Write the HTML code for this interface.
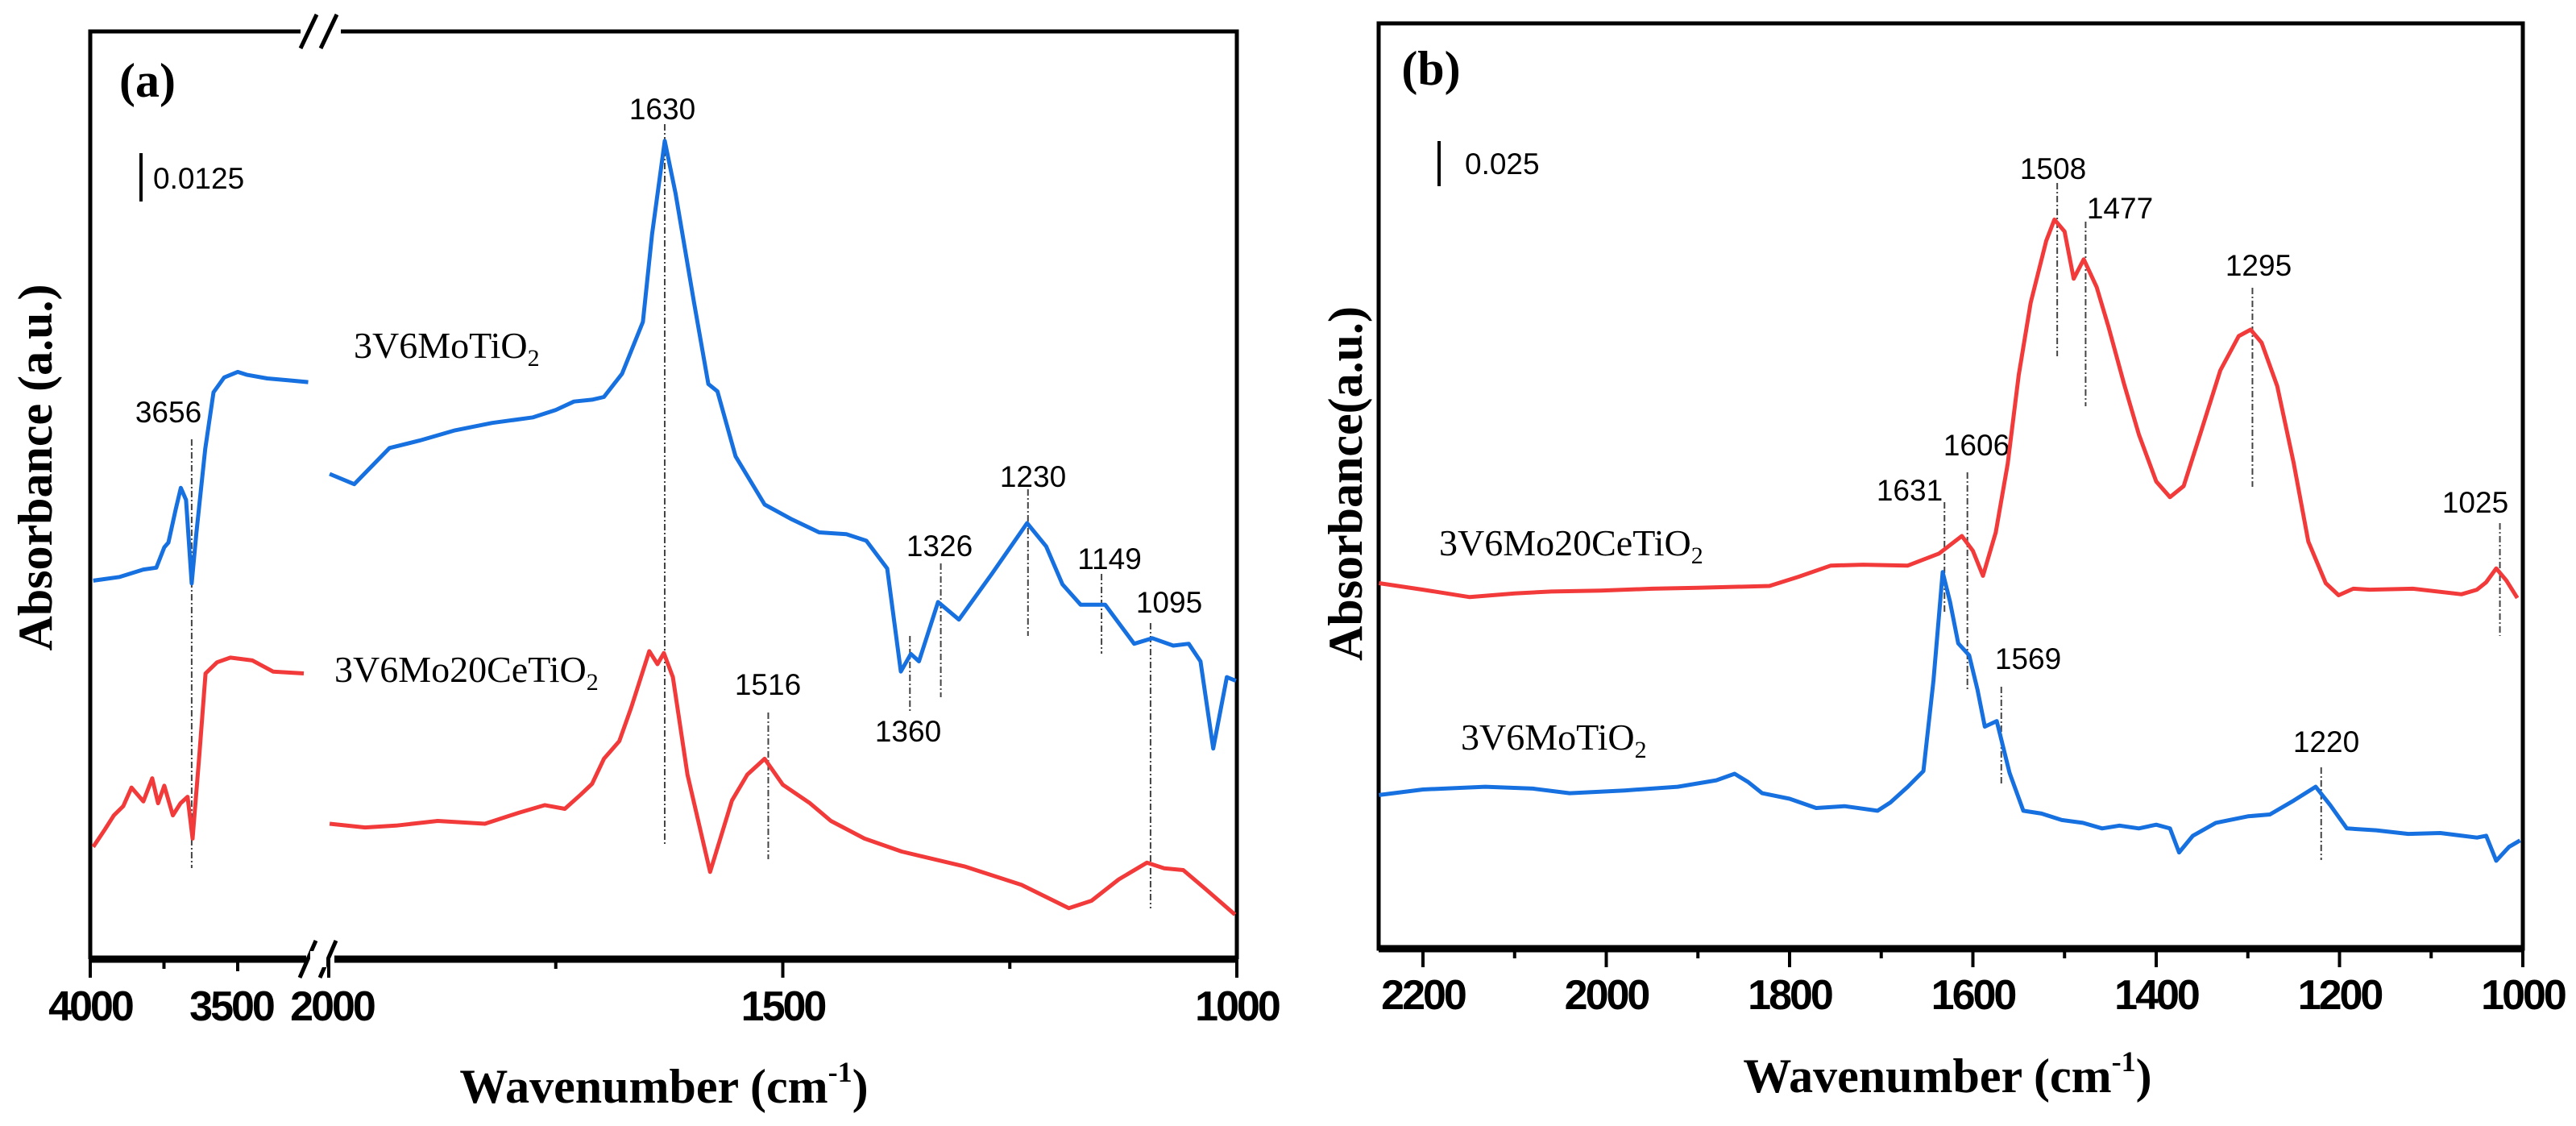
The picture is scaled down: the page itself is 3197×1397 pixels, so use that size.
<!DOCTYPE html>
<html><head><meta charset="utf-8">
<style>
html,body{margin:0;padding:0;background:#fff;}
svg{display:block;}
.tick{font-family:"Liberation Sans",sans-serif;font-weight:bold;font-size:52px;letter-spacing:-3px;}
.ann{font-family:"Liberation Sans",sans-serif;font-size:37px;}
.ser{font-family:"Liberation Serif",serif;font-size:46px;}
.ttl{font-family:"Liberation Serif",serif;font-weight:bold;font-size:60px;}
</style></head>
<body>
<svg id="fig" width="3197" height="1397" viewBox="0 0 3197 1397" xmlns="http://www.w3.org/2000/svg">
<g id="pa"></g>
<g id="pb"></g>
</svg>
<script>
// ---------- Panel (a) data ----------
const aBlueLeftX = [3990,3900,3820,3776,3749,3735,3710,3693,3675,3656,3640,3610,3582,3546,3500,3470,3400,3330,3261];
const aBlueLeftY = [40.8,41.2,42.0,42.2,44.4,44.9,48.5,50.8,49.5,40.5,46.0,55.0,61.1,62.7,63.3,63.0,62.6,62.4,62.2];
const aRedLeftX = [3990,3950,3920,3888,3860,3820,3790,3770,3749,3720,3694,3670,3653,3630,3609,3570,3525,3450,3380,3276];
const aRedLeftY = [12.1,14.0,15.5,16.5,18.5,17.0,19.5,16.8,18.7,15.5,16.8,17.5,13.0,22.0,30.8,32.0,32.5,32.2,31.0,30.8];
const aBlueRightX = [1999,1972,1933,1900,1861,1820,1775,1750,1730,1710,1697,1677,1654,1644,1630,1618,1598,1582,1572,1552,1520,1490,1460,1430,1408,1385,1370,1359,1350,1329,1306,1270,1231,1210,1192,1172,1145,1113,1093,1070,1053,1040,1026,1011,1001];
const aBlueRightY = [52.3,51.2,55.1,55.9,57.0,57.8,58.4,59.2,60.1,60.3,60.6,63.1,68.7,78.1,88.2,82.5,70.9,62.0,61.2,54.2,49.0,47.4,46.0,45.8,45.1,42.1,31.0,32.9,32.1,38.5,36.6,41.5,47.0,44.5,40.4,38.2,38.2,34.0,34.6,33.8,34.0,32.1,22.7,30.4,30.0];
const aRedRightX = [1999,1960,1926,1880,1828,1790,1762,1740,1723,1710,1697,1680,1667,1647,1638,1631,1621,1605,1580,1556,1539,1520,1500,1470,1447,1410,1369,1300,1237,1185,1160,1130,1099,1080,1059,1035,1002];
const aRedRightY = [14.6,14.2,14.4,14.9,14.6,15.8,16.6,16.2,17.7,18.9,21.6,23.5,27.1,33.2,31.8,33.0,30.4,19.9,9.4,17.1,19.9,21.6,18.8,16.8,14.9,13.0,11.6,10.0,8.0,5.5,6.3,8.6,10.4,9.8,9.6,7.6,4.8];
const aTickMajor = [4000,3500,2000,1500,1000];
const aTickLabels = ["4000","3500","2000","1500","1000"];
const aTickMinor = [3750,1750,1250];
const aPeaks = ["3656","1630","1516","1360","1326","1230","1149","1095"];

// ---------- Panel (b) data ----------
const bRedX = [2248,2200,2149,2100,2060,2006,1950,1900,1822,1790,1755,1720,1671,1637,1612,1600,1589,1575,1562,1550,1537,1520,1511,1500,1490,1479,1465,1452,1435,1419,1400,1385,1370,1352,1330,1310,1297,1285,1268,1250,1234,1215,1201,1185,1167,1120,1067,1050,1040,1029,1018,1006];
const bRedY = [39.5,38.8,38.0,38.4,38.6,38.7,38.9,39.0,39.2,40.2,41.4,41.5,41.4,42.7,44.6,43.0,40.3,45.0,52.4,62.0,69.8,76.5,78.8,77.5,72.4,74.5,71.5,67.2,61.0,55.6,50.5,48.8,50.0,55.6,62.5,66.2,66.9,65.5,60.8,52.5,44.0,39.5,38.2,38.9,38.8,38.9,38.3,38.8,39.6,41.1,39.8,37.9];
const bBlueX = [2248,2200,2132,2080,2040,1980,1922,1880,1860,1845,1830,1800,1771,1740,1704,1690,1671,1654,1643,1633,1625,1616,1604,1595,1587,1574,1560,1545,1525,1503,1480,1459,1440,1419,1400,1385,1375,1360,1335,1300,1276,1250,1226,1210,1192,1160,1125,1090,1050,1040,1029,1015,1003];
const bBlueY = [16.6,17.2,17.5,17.3,16.8,17.1,17.5,18.2,18.9,18.0,16.8,16.2,15.2,15.4,14.9,15.8,17.5,19.2,29.0,40.7,37.5,33.0,31.7,28.0,24.0,24.6,19.0,14.9,14.6,13.9,13.6,13.0,13.3,13.0,13.4,13.0,10.4,12.2,13.6,14.3,14.5,16.0,17.5,15.5,13.0,12.8,12.4,12.5,12.0,12.2,9.5,11.0,11.7];
const bTickMajor = [2200,2000,1800,1600,1400,1200,1000];
const bTickLabels = ["2200","2000","1800","1600","1400","1200","1000"];
const bTickMinor = [2100,1900,1700,1500,1300,1100];
const bPeaks = ["1631","1606","1569","1508","1477","1295","1220","1025"];

const NS = "http://www.w3.org/2000/svg";
const BLUE = "#1670e0", RED = "#f23a3a";

// axis functions
const A = {left:112, right:1535, top:39, bottom:1190};
function xA(w){ return w > 2500 ? 112 + (4000 - w) * 0.366 : 408 + (2000 - w) * 1.127; }
function yA(v){ return A.bottom - v * (A.bottom - A.top) / 100; }
const B = {left:1711, right:3131, top:29, bottom:1177};
function xB(w){ return 1766 + (2200 - w) * (B.right - 1766) / 1200; }
function yB(v){ return B.bottom - v * (B.bottom - B.top) / 100; }

function mk(tag, attrs, parent){
  const e = document.createElementNS(NS, tag);
  for (const k in attrs) e.setAttribute(k, attrs[k]);
  parent.appendChild(e);
  return e;
}
function curve(parent, xs, ys, fx, fy, color, name){
  let d = "";
  xs.forEach((w,i)=>{ d += (i ? "L" : "M") + fx(w).toFixed(1) + " " + fy(ys[i]).toFixed(1); });
  const p = mk("path", {d:d, fill:"none", stroke:color, "stroke-width":5, "stroke-linejoin":"round"}, parent);
  
  
}
function txt(parent, x, y, s, cls, anchor, name){
  const t = mk("text", {x:x, y:y, class:cls, "text-anchor":anchor||"start"}, parent);
  t.textContent = s;
  
  
  return t;
}
function vdash(parent, x, y1, y2, name){
  const l = mk("line", {x1:x, x2:x, y1:y1, y2:y2, stroke:"#444", "stroke-width":2, "stroke-dasharray":"8 3 2 3"}, parent);
  
  
}

// ---------- Panel a ----------
const pa = document.getElementById("pa");
let fr = mk("path", {d:`M${A.left} ${A.bottom} V${A.top} H373 M423 ${A.top} H${A.right} V${A.bottom}`, fill:"none", stroke:"#000", "stroke-width":5}, pa);


let xax = mk("path", {d:`M${A.left} ${A.bottom} H380 M415 ${A.bottom} H${A.right}`, fill:"none", stroke:"#000", "stroke-width":9}, pa);


// break marks
[[373,60,393,18],[398,60,418,18],[372,1213,392,1167],[397,1213,417,1167]].forEach((c,i)=>{
  const l = mk("line", {x1:c[0], y1:c[1], x2:c[2], y2:c[3], stroke:"#000", "stroke-width":5}, pa);
  
  
});
mk("rect", {x:385, y:1180, width:20, height:20, fill:"#fff"}, pa);
aTickMajor.forEach((w,i)=>{
  const x = xA(w);
  const l = mk("line", {x1:x, x2:x, y1:A.bottom, y2: w===3500 ? 1205 : 1213, stroke:"#000", "stroke-width":4}, pa);
  
  
  txt(pa, x + (w===3500 ? -8 : (w===2000 ? 4 : 0)), 1266, aTickLabels[i], "tick", "middle", "x-tick-label-a");
});
aTickMinor.forEach(w=>{
  const x = xA(w);
  const l = mk("line", {x1:x, x2:x, y1:A.bottom, y2:1202, stroke:"#000", "stroke-width":4}, pa);
  
  
});
// peak markers
const aPeakGeom = {"3656":[3656,209,511,545,1077],"1630":[1630,822,135,154,1050],"1516":[1516,953,849,884,1066],
 "1360":[1360,1127,907,789,884],"1326":[1326,1166,677,699,865],"1230":[1230,1282,591,607,789],
 "1149":[1149,1377,693,712,811],"1095":[1095,1451,747,773,1127]};
aPeaks.forEach(p=>{
  const g = aPeakGeom[p];
  vdash(pa, xA(g[0]), g[3], g[4], "peak-line-" + p);
  txt(pa, g[1], g[2] + 13, p, "ann", "middle", "peak-label-" + p);
});
curve(pa, aBlueLeftX, aBlueLeftY, xA, yA, BLUE, "series-3v6motio2-oh-region");
curve(pa, aRedLeftX, aRedLeftY, xA, yA, RED, "series-3v6mo20cetio2-oh-region");
curve(pa, aBlueRightX, aBlueRightY, xA, yA, BLUE, "series-3v6motio2");
curve(pa, aRedRightX, aRedRightY, xA, yA, RED, "series-3v6mo20cetio2");
txt(pa, 148, 120, "(a)", "ttl", "start", "panel-a-label").setAttribute("font-family","Liberation Sans");
let sb = mk("line", {x1:175, x2:175, y1:190, y2:250, stroke:"#000", "stroke-width":4}, pa);


txt(pa, 190, 234, "0.0125", "ann", "start", "scale-bar-a-label").setAttribute("font-size","40");
let s1 = txt(pa, 439, 444, "", "ser", "start", "legend-3v6motio2-a");
s1.innerHTML = '3V6MoTiO<tspan font-size="30" dy="10">2</tspan>';
let s2 = txt(pa, 415, 846, "", "ser", "start", "legend-3v6mo20cetio2-a");
s2.innerHTML = '3V6Mo20CeTiO<tspan font-size="30" dy="10">2</tspan>';
let xt = txt(pa, 824, 1368, "", "ttl", "middle", "x-axis-title-a");
xt.innerHTML = 'Wavenumber (cm<tspan font-size="36" dy="-26">-1</tspan><tspan dy="26">)</tspan>';
let yt = txt(pa, 0, 0, "Absorbance (a.u.)", "ttl", "middle", "y-axis-title-a");
yt.setAttribute("transform", "translate(64,580) rotate(-90)");

// ---------- Panel b ----------
const pb = document.getElementById("pb");
let frb = mk("rect", {x:B.left, y:B.top, width:B.right-B.left, height:B.bottom-B.top, fill:"none", stroke:"#000", "stroke-width":5}, pb);


let xbx = mk("line", {x1:B.left, x2:B.right, y1:B.bottom, y2:B.bottom, stroke:"#000", "stroke-width":9}, pb);


bTickMajor.forEach((w,i)=>{
  const x = xB(w);
  const l = mk("line", {x1:x, x2:x, y1:B.bottom, y2:1200, stroke:"#000", "stroke-width":4}, pb);
  
  
  txt(pb, x, 1252, bTickLabels[i], "tick", "middle", "x-tick-label-b");
});
bTickMinor.forEach(w=>{
  const x = xB(w);
  const l = mk("line", {x1:x, x2:x, y1:B.bottom, y2:1189, stroke:"#000", "stroke-width":4}, pb);
  
  
});
const bPeakGeom = {"1631":[1631,2370,608,623,760],"1606":[1606,2453,552,586,856],"1569":[1569,2517,817,852,974],
 "1508":[1508,2548,209,227,442],"1477":[1477,2631,258,275,504],"1295":[1295,2803,329,357,604],
 "1220":[1220,2887,920,952,1067],"1025":[1025,3072,623,649,789]};
bPeaks.forEach(p=>{
  const g = bPeakGeom[p];
  vdash(pb, xB(g[0]), g[3], g[4], "peak-line-b-" + p);
  txt(pb, g[1], g[2] + 13, p, "ann", "middle", "peak-label-b-" + p);
});
curve(pb, bRedX, bRedY, xB, yB, RED, "series-3v6mo20cetio2-b");
curve(pb, bBlueX, bBlueY, xB, yB, BLUE, "series-3v6motio2-b");
txt(pb, 1776, 105, "(b)", "ttl", "middle", "panel-b-label").setAttribute("font-family","Liberation Sans");
let sbb = mk("line", {x1:1786, x2:1786, y1:175, y2:231, stroke:"#000", "stroke-width":4}, pb);


txt(pb, 1818, 216, "0.025", "ann", "start", "scale-bar-b-label").setAttribute("font-size","44");
let s3 = txt(pb, 1786, 689, "", "ser", "start", "legend-3v6mo20cetio2-b");
s3.innerHTML = '3V6Mo20CeTiO<tspan font-size="30" dy="10">2</tspan>';
let s4 = txt(pb, 1813, 930, "", "ser", "start", "legend-3v6motio2-b");
s4.innerHTML = '3V6MoTiO<tspan font-size="30" dy="10">2</tspan>';
let xtb = txt(pb, 2417, 1355, "", "ttl", "middle", "x-axis-title-b");
xtb.innerHTML = 'Wavenumber (cm<tspan font-size="36" dy="-26">-1</tspan><tspan dy="26">)</tspan>';
let ytb = txt(pb, 0, 0, "Absorbance(a.u.)", "ttl", "middle", "y-axis-title-b");
ytb.setAttribute("transform", "translate(1690,600) rotate(-90)");
</script>
</body></html>
